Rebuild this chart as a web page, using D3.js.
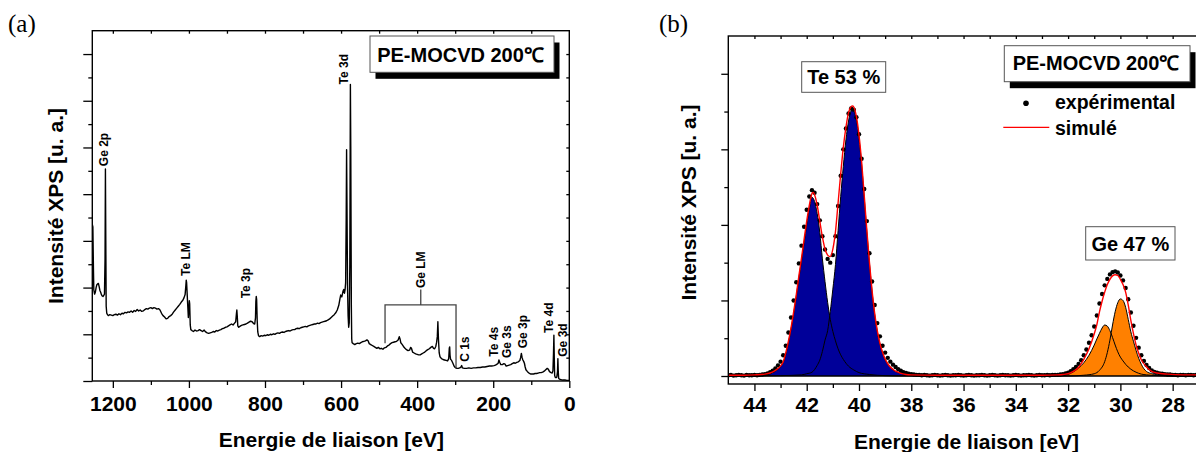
<!DOCTYPE html>
<html><head><meta charset="utf-8">
<script src="https://cdn.jsdelivr.net/npm/d3@7"></script>
<style>
body{margin:0;background:#fff;}
svg{display:block;font-family:"Liberation Sans",Arial,Helvetica,sans-serif;}
</style></head><body>
<svg id="chart" width="1196" height="452"></svg>
<script>
// ---------------- DATA ----------------
// Panel (a): XPS survey spectrum [binding energy eV, intensity a.u.]
const survey = [
[1254,3.35],[1252.5,3.3],[1251,2.4],[1250,1.95],[1248,1.86],[1246,1.9],[1244,2.0],[1242,2.06],[1240,2.08],[1238,2.09],
[1236,2.02],[1234,1.94],[1232,1.9],[1230,1.85],[1228,1.82],[1226,1.81],[1224,1.83],[1222,1.86],[1220.5,2.6],[1219.5,4.54],
[1218.5,3.0],[1217.5,1.6],[1216,1.45],[1214,1.42],[1212,1.4],[1208,1.42],[1204,1.41],[1200,1.40],[1196,1.42],[1192,1.43],
[1188,1.41],[1184,1.44],[1180,1.42],[1176,1.45],[1172,1.44],[1168,1.47],[1164,1.46],[1160,1.48],[1156,1.47],[1152,1.50],
[1148,1.47],[1144,1.51],[1140,1.49],[1136,1.53],[1132,1.50],[1128,1.52],[1124,1.49],[1120,1.50],[1116,1.53],[1112,1.55],
[1108,1.54],[1104,1.56],[1100,1.57],[1096,1.55],[1092,1.57],[1088,1.56],[1084,1.54],[1080,1.55],[1076,1.52],[1072,1.45],
[1068,1.40],[1064,1.37],[1060,1.33],[1056,1.34],[1052,1.38],[1048,1.40],[1044,1.43],[1040,1.48],[1036,1.52],[1032,1.56],
[1028,1.6],[1024,1.64],[1020,1.69],[1016,1.73],[1013,1.78],[1010,1.85],[1008,2.05],[1007,2.16],[1006,2.1],[1004.5,1.85],
[1003,1.6],[1001.5,1.36],[1000,1.55],[999,1.72],[998,1.65],[996.5,1.2],[995,1.1],[992,1.08],[988,1.06],[984,1.09],
[980,1.07],[976,1.08],[972,1.1],[968,1.08],[964,1.06],[960,1.09],[956,1.05],[952,1.03],[948,1.02],[944,1.03],
[940,1.04],[936,1.06],[932,1.05],[928,1.08],[924,1.07],[920,1.09],[916,1.1],[912,1.12],[908,1.13],[904,1.15],
[900,1.16],[896,1.18],[892,1.2],[888,1.22],[884,1.2],[880,1.24],[877,1.27],[875,1.45],[874,1.52],[873,1.4],
[871.5,1.18],[869,1.15],[866,1.17],[862,1.19],[858,1.2],[854,1.21],[850,1.22],[846,1.24],[842,1.26],[838,1.28],
[834,1.27],[830,1.23],[827,1.22],[825,1.35],[824,1.7],[823,1.81],[822,1.75],[820.5,1.3],[819,1.05],[817,0.97],
[814,0.95],[810,0.97],[806,0.96],[802,0.98],[798,0.97],[794,0.99],[790,0.98],[786,1.0],[782,0.99],[778,1.01],
[774,1.0],[770,1.02],[766,1.03],[762,1.02],[758,1.04],[754,1.05],[750,1.04],[746,1.06],[742,1.07],[738,1.08],
[734,1.07],[730,1.09],[726,1.1],[722,1.1],[718,1.12],[714,1.13],[710,1.12],[706,1.14],[702,1.15],[698,1.16],
[694,1.17],[690,1.16],[686,1.18],[682,1.19],[678,1.2],[674,1.21],[670,1.22],[666,1.22],[662,1.24],[658,1.23],
[654,1.25],[650,1.26],[646,1.27],[642,1.28],[638,1.29],[634,1.31],[630,1.33],[626,1.36],[622,1.39],[618,1.42],
[614,1.46],[610,1.52],[606,1.62],[603,1.76],[601,1.84],[598,1.8],[595,1.92],[593,1.96],[591,1.88],[589.5,1.95],
[588,2.1],[586.5,3.5],[585.5,4.95],[584.5,3.8],[583,2.0],[581.5,1.4],[580,1.15],[578.5,1.25],[577,2.5],[575.5,6.35],
[574.5,5.0],[573,1.6],[572,0.9],[571,0.82],[568,0.8],[564,0.78],[560,0.8],[556,0.81],[552,0.8],[548,0.82],
[544,0.84],[540,0.85],[536,0.86],[532,0.88],[529,0.86],[526,0.8],[522,0.78],[518,0.76],[514,0.74],[510,0.72],
[506,0.7],[502,0.72],[498,0.69],[494,0.7],[490,0.68],[486,0.71],[482,0.72],[478,0.75],[474,0.77],[470,0.8],
[466,0.82],[462,0.83],[458,0.84],[454,0.85],[450,0.88],[447,0.95],[445,0.9],[443,0.82],[440,0.79],[436,0.74],
[432,0.70],[428,0.67],[424,0.65],[420,0.66],[417,0.72],[415,0.7],[412,0.62],[408,0.6],[404,0.58],[400,0.57],
[396,0.56],[392,0.56],[388,0.58],[384,0.6],[380,0.62],[376,0.65],[372,0.67],[368,0.69],[364,0.72],[360,0.74],
[357,0.7],[354,0.69],[351,0.74],[349,0.82],[347,0.95],[345.5,1.27],[344,0.9],[342,0.6],[340,0.52],[336,0.48],
[332,0.46],[328,0.45],[324,0.44],[320,0.43],[317,0.48],[315.5,0.7],[314.5,0.73],[313.5,0.55],[312,0.46],[310,0.45],
[306,0.38],[303,0.32],[300,0.29],[296,0.27],[292,0.27],[288,0.28],[285,0.3],[283,0.33],[281,0.28],[276,0.27],
[270,0.27],[264,0.28],[258,0.27],[252,0.28],[246,0.28],[240,0.29],[234,0.29],[228,0.30],[222,0.30],[216,0.31],
[210,0.32],[204,0.32],[198,0.33],[194,0.34],[190,0.36],[187,0.38],[185,0.45],[183,0.4],[180,0.35],[176,0.35],
[172,0.37],[169,0.36],[166,0.32],[162,0.33],[158,0.34],[154,0.35],[150,0.37],[146,0.39],[142,0.38],[138,0.4],
[134,0.41],[130,0.44],[128,0.5],[126,0.59],[124,0.5],[122,0.45],[120,0.42],[118,0.38],[116,0.3],[114,0.24],
[110,0.2],[106,0.17],[102,0.15],[98,0.15],[94,0.15],[90,0.16],[86,0.16],[82,0.17],[78,0.18],[74,0.18],
[70,0.19],[66,0.21],[62,0.24],[58,0.27],[55,0.25],[52,0.2],[48,0.18],[45,0.17],[43,0.22],[41.5,0.6],
[40.5,0.98],[39.5,0.5],[38.5,0.12],[37,0.08],[35,0.07],[33,0.08],[31,0.2],[30,0.48],[29,0.2],[28,0.06],
[26,0.04],[22,0.03],[18,0.02],[14,0.02],[10,0.02],[6,0.01],[2,0.01],[0,0.01]
];
// Peak labels of panel (a): [text, energy, intensity at label foot]
const peakLabels = [
["Ge 2p",1224.7,4.60],["Te 3d",594,6.35],["Te LM",1007.4,2.25],["Te 3p",849.7,1.77],["Ge LM",390.5,1.99],
["C 1s",276,0.41],["Te 4s",199.7,0.52],["Ge 3s",164.5,0.49],["Ge 3p",123.5,0.70],["Te 4d",55.2,1.03],["Ge 3d",18.4,0.52]
];
// Ge LM bracket: [left E, right E, bar I, left foot I, right foot I, stem E, stem top I]
const geLMBracket = [484.4, 297.8, 1.63, 0.81, 0.27, 390.5, 1.96];

const xTicksA = [1200,1000,800,600,400,200,0];
const xMinorA = [1100,900,700,500,300,100];
const xTopA = [1200,1100,1000,900,800,700,600,500,400,300,200,100];
const yMajorA = [0,1,2,3,4,5,6,7];
const yMinorA = [0.5,1.5,2.5,3.5,4.5,5.5,6.5];
const yRightA = [0.5,1,1.5,2,2.5,3,3.5,4,4.5,5,5.5,6,6.5,7];

// Panel (b): Te 4d / Ge 3d high resolution
const expData = [
[45.0,0.02],[44.9,0.03],[44.8,0.01],[44.7,0.02],[44.6,0.03],[44.5,0.02],[44.4,0.01],[44.3,0.03],[44.2,0.02],[44.1,0.02],
[44.0,0.03],[43.9,0.02],[43.8,0.03],[43.7,0.04],
[43.6,0.05],[43.5,0.07],[43.4,0.10],[43.3,0.14],[43.2,0.20],[43.1,0.28],[43.0,0.38],[42.9,0.55],[42.8,0.80],[42.7,1.15],
[42.6,1.55],[42.5,2.00],[42.4,2.48],[42.3,2.98],[42.2,3.45],[42.1,3.95],[42.0,4.40],[41.9,4.75],[41.8,4.92],[41.7,4.85],
[41.6,4.55],[41.5,4.12],[41.4,3.70],[41.3,3.35],[41.2,3.10],[41.1,3.00],[41.0,3.20],[40.9,3.70],[40.8,4.50],[40.7,5.30],
[40.6,6.00],[40.5,6.55],[40.4,6.95],[40.3,7.08],[40.2,7.05],[40.1,6.85],[40.0,6.40],[39.9,5.75],[39.8,4.95],[39.7,4.10],
[39.6,3.25],[39.5,2.50],[39.4,1.88],[39.3,1.40],[39.2,1.05],[39.1,0.80],[39.0,0.62],[38.9,0.48],[38.8,0.38],[38.7,0.30],
[38.6,0.24],[38.5,0.18],[38.4,0.14],[38.3,0.10],[38.2,0.08],[38.1,0.06],[38.0,0.05],
[37.9,0.04],[37.8,0.03],[37.7,0.03],[37.6,0.02],[37.5,0.03],[37.4,0.02],[37.3,0.01],[37.2,0.02],[37.1,0.03],[37.0,0.02],
[36.9,0.01],[36.8,0.02],[36.7,0.03],[36.6,0.02],[36.5,0.01],[36.4,0.02],[36.3,0.02],[36.2,0.03],[36.1,0.02],[36.0,0.01],
[35.9,0.02],[35.8,0.03],[35.7,0.02],[35.6,0.01],[35.5,0.02],[35.4,0.02],[35.3,0.03],[35.2,0.02],[35.1,0.01],[35.0,0.02],
[34.9,0.03],[34.8,0.02],[34.7,0.01],[34.6,0.02],[34.5,0.03],[34.4,0.02],[34.3,0.02],[34.2,0.01],[34.1,0.02],[34.0,0.03],
[33.9,0.02],[33.8,0.01],[33.7,0.02],[33.6,0.02],[33.5,0.03],[33.4,0.02],[33.3,0.01],[33.2,0.02],[33.1,0.03],[33.0,0.02],
[32.9,0.02],[32.8,0.03],[32.7,0.02],[32.6,0.03],[32.5,0.03],
[32.4,0.03],[32.3,0.04],[32.2,0.05],[32.1,0.07],[32.0,0.09],[31.9,0.13],[31.8,0.18],[31.7,0.24],[31.6,0.32],[31.5,0.42],
[31.4,0.55],[31.3,0.70],[31.2,0.88],[31.1,1.08],[31.0,1.31],[30.9,1.60],[30.8,1.92],[30.7,2.17],[30.6,2.40],[30.5,2.57],
[30.4,2.69],[30.3,2.75],[30.2,2.77],[30.1,2.74],[30.0,2.66],[29.9,2.53],[29.8,2.33],[29.7,2.03],[29.6,1.68],[29.5,1.33],
[29.4,1.01],[29.3,0.75],[29.2,0.55],[29.1,0.40],[29.0,0.29],[28.9,0.21],[28.8,0.15],[28.7,0.11],[28.6,0.09],[28.5,0.07],
[28.4,0.06],[28.3,0.05],[28.2,0.04],[28.1,0.04],[28.0,0.03],
[27.9,0.03],[27.8,0.02],[27.7,0.03],[27.6,0.03],[27.5,0.02],[27.4,0.03],[27.3,0.03],[27.2,0.02],[27.1,0.03],[27.0,0.03]
];
const simulated = [
[45.0,0.02],[44.4,0.02],[44.0,0.03],[43.6,0.05],[43.4,0.08],[43.2,0.15],[43.0,0.27],[42.9,0.38],[42.8,0.62],[42.7,0.92],
[42.6,1.28],[42.5,1.70],[42.4,2.15],[42.3,2.65],[42.2,3.12],[42.1,3.62],[42.0,4.10],[41.9,4.52],[41.8,4.83],[41.75,4.86],
[41.7,4.80],[41.6,4.52],[41.5,4.10],[41.4,3.68],[41.3,3.36],[41.2,3.20],[41.1,3.16],[41.0,3.36],[40.9,3.82],[40.8,4.58],
[40.7,5.35],[40.6,6.05],[40.5,6.58],[40.4,6.97],[40.3,7.13],[40.25,7.15],[40.2,7.12],[40.1,6.87],[40.0,6.38],[39.9,5.68],
[39.8,4.78],[39.7,3.86],[39.6,3.01],[39.5,2.26],[39.4,1.66],[39.3,1.20],[39.2,0.87],[39.1,0.63],[39.0,0.45],[38.9,0.33],
[38.8,0.24],[38.7,0.18],[38.6,0.13],[38.5,0.10],[38.4,0.07],[38.2,0.04],[38.0,0.03],[37.0,0.02],[35.0,0.02],[33.0,0.02],
[32.4,0.03],[32.2,0.04],[32.0,0.06],[31.8,0.12],[31.6,0.23],[31.4,0.44],[31.2,0.72],[31.0,1.12],[30.9,1.36],[30.8,1.70],
[30.7,1.98],[30.6,2.22],[30.5,2.42],[30.4,2.56],[30.3,2.65],[30.2,2.68],[30.1,2.66],[30.0,2.56],[29.9,2.42],[29.8,2.22],
[29.7,1.88],[29.6,1.47],[29.5,1.12],[29.4,0.82],[29.3,0.60],[29.2,0.43],[29.0,0.24],[28.8,0.12],[28.6,0.08],[28.2,0.05],
[27.6,0.03],[27.0,0.03]
];
const teComp1 = [
[45.0,0],[44.4,0.01],[44.0,0.02],[43.6,0.04],[43.4,0.07],[43.2,0.13],[43.0,0.25],[42.9,0.36],[42.8,0.58],[42.7,0.88],
[42.6,1.24],[42.5,1.65],[42.4,2.10],[42.3,2.59],[42.2,3.05],[42.1,3.53],[42.0,4.01],[41.9,4.42],[41.8,4.73],[41.7,4.62],
[41.6,4.30],[41.5,3.80],[41.4,3.10],[41.3,2.50],[41.2,1.95],[41.1,1.50],[41.0,1.18],[40.9,0.93],[40.8,0.72],[40.7,0.56],
[40.6,0.44],[40.4,0.26],[40.2,0.16],[40.0,0.09],[39.6,0.04],[39.0,0.01],[38.0,0],[27.0,0]
];
const teComp2 = [
[45.0,0],[43.0,0.01],[42.2,0.03],[42.0,0.06],[41.8,0.10],[41.6,0.28],[41.5,0.42],[41.4,0.65],[41.3,0.95],[41.2,1.20],
[41.1,1.70],[41.0,2.30],[40.9,2.95],[40.8,3.85],[40.7,4.75],[40.6,5.55],[40.5,6.25],[40.4,6.75],[40.3,7.02],[40.25,7.05],
[40.2,7.02],[40.1,6.78],[40.0,6.28],[39.9,5.60],[39.8,4.72],[39.7,3.82],[39.6,2.98],[39.5,2.23],[39.4,1.63],[39.3,1.18],
[39.2,0.85],[39.1,0.61],[39.0,0.44],[38.8,0.23],[38.6,0.12],[38.4,0.07],[38.2,0.04],[38.0,0.02],[37.0,0],[27.0,0]
];
const geComp1 = [
[45.0,0],[33.0,0],[32.2,0.02],[32.0,0.05],[31.8,0.11],[31.6,0.21],[31.4,0.35],[31.2,0.55],[31.0,0.82],[30.9,0.98],
[30.8,1.13],[30.7,1.27],[30.6,1.35],[30.5,1.32],[30.4,1.20],[30.3,1.02],[30.2,0.82],[30.1,0.64],[30.0,0.50],[29.9,0.40],
[29.8,0.31],[29.6,0.18],[29.4,0.10],[29.2,0.05],[29.0,0.03],[28.6,0.01],[28.0,0],[27.0,0]
];
const geComp2 = [
[45.0,0],[32.0,0],[31.4,0.02],[31.0,0.06],[30.8,0.15],[30.6,0.38],[30.5,0.62],[30.4,0.95],[30.3,1.35],[30.2,1.70],
[30.1,1.94],[30.0,2.04],[29.9,2.00],[29.8,1.82],[29.7,1.50],[29.6,1.17],[29.5,0.92],[29.4,0.68],[29.3,0.47],[29.2,0.31],
[29.1,0.19],[29.0,0.12],[28.8,0.06],[28.6,0.03],[28.2,0.01],[27.6,0],[27.0,0]
];
const xTicksB = [44,42,40,38,36,34,32,30,28];
const xMinorB = [43,41,39,37,35,33,31,29];
const xTopB = [44,43,42,41,40,39,38,37,36,35,34,33,32,31,30,29,28];
const yMajorB = [0,2,4,6,8];
const yMinorB = [1,3,5,7];
const legendLabels = ["expérimental","simulé"];

// ---------------- DRAWING ----------------
const svg = d3.select("#chart");
const FONT = '"Liberation Sans",Arial,Helvetica,sans-serif';

function styleAxis(g){
  g.select(".domain").remove();
  g.selectAll("line").attr("stroke","#000").attr("stroke-width",1.3);
  g.selectAll("text").attr("fill","#000").attr("font-family",FONT)
   .attr("font-weight","bold").attr("font-size",21);
}

// ===== Panel (a) =====
const A = {l:92.3, r:569.3, t:30.7, b:381};
const xA = d3.scaleLinear().domain([1254,0]).range([A.l,A.r]);
const yA = d3.scaleLinear().domain([0,7.5]).range([A.b,A.t]);
const gA = svg.append("g");

gA.append("g").attr("transform",`translate(0,${A.b})`)
  .call(d3.axisBottom(xA).tickValues(xTicksA).tickSize(7).tickSizeOuter(0).tickPadding(8).tickFormat(d3.format("d")))
  .call(styleAxis);
gA.append("g").attr("transform",`translate(0,${A.b})`)
  .call(d3.axisBottom(xA).tickValues(xMinorA).tickSize(4).tickSizeOuter(0).tickFormat(""))
  .call(styleAxis);
gA.append("g").attr("transform",`translate(0,${A.t})`)
  .call(d3.axisBottom(xA).tickValues(xTopA).tickSize(3).tickSizeOuter(0).tickFormat(""))
  .call(styleAxis);
gA.append("g").attr("transform",`translate(${A.l},0)`)
  .call(d3.axisLeft(yA).tickValues(yMajorA).tickSize(9).tickSizeOuter(0).tickFormat(""))
  .call(styleAxis);
gA.append("g").attr("transform",`translate(${A.l},0)`)
  .call(d3.axisLeft(yA).tickValues(yMinorA).tickSize(4).tickSizeOuter(0).tickFormat(""))
  .call(styleAxis);
gA.append("g").attr("transform",`translate(${A.r},0)`)
  .call(d3.axisLeft(yA).tickValues(yRightA).tickSize(3).tickSizeOuter(0).tickFormat(""))
  .call(styleAxis);

gA.append("defs").append("clipPath").attr("id","clipA").append("rect")
  .attr("x",A.l).attr("y",A.t).attr("width",A.r-A.l).attr("height",A.b-A.t);

gA.append("path").datum(survey)
  .attr("clip-path","url(#clipA)")
  .attr("fill","none").attr("stroke","#000").attr("stroke-width",1.4).attr("stroke-linejoin","round")
  .attr("d",d3.line().x(d=>xA(d[0])).y(d=>yA(d[1])));

gA.append("rect").attr("x",A.l).attr("y",A.t).attr("width",A.r-A.l).attr("height",A.b-A.t)
  .attr("fill","none").attr("stroke","#000").attr("stroke-width",1.4);

// Ge LM bracket
const br = geLMBracket;
gA.append("path")
  .attr("fill","none").attr("stroke","#444").attr("stroke-width",1.3)
  .attr("d",`M${xA(br[0])},${yA(br[3])}V${yA(br[2])}H${xA(br[1])}V${yA(br[4])}M${xA(br[5])},${yA(br[2])}V${yA(br[6])}`);

// peak labels
gA.selectAll("text.peak").data(peakLabels).join("text").attr("class","peak")
  .attr("transform",d=>`translate(${xA(d[1])+4.3},${yA(d[2])}) rotate(-90)`)
  .attr("font-family",FONT).attr("font-weight","bold").attr("font-size",12).attr("fill","#000")
  .text(d=>d[0]);

// title box
function shadowBox(g,x,y,w,h,txt,tx,ty,fs){
  g.append("rect").attr("x",x+5.5).attr("y",y+6.5).attr("width",w).attr("height",h).attr("fill","#000");
  g.append("rect").attr("x",x).attr("y",y).attr("width",w).attr("height",h)
    .attr("fill","#fff").attr("stroke","#555").attr("stroke-width",1);
  g.append("text").attr("x",tx).attr("y",ty).attr("text-anchor","middle")
    .attr("font-family",FONT).attr("font-weight","bold").attr("font-size",fs).text(txt);
}
shadowBox(gA,370,36,184,36.3,"PE-MOCVD 200℃",460.5,61.7,20);

// axis titles (a)
gA.append("text").attr("x",331.4).attr("y",447).attr("text-anchor","middle")
  .attr("font-family",FONT).attr("font-weight","bold").attr("font-size",21).text("Energie de liaison [eV]");
gA.append("text").attr("transform","translate(63,206) rotate(-90)").attr("text-anchor","middle")
  .attr("font-family",FONT).attr("font-weight","bold").attr("font-size",21).text("Intensité XPS [u. a.]");
svg.append("text").attr("x",8).attr("y",31.5).attr("font-family",'"Liberation Serif","Times New Roman",serif')
  .attr("font-size",25).text("(a)");

// ===== Panel (b) =====
const B = {l:728.3, r:1198.8, t:36, b:384};
const xB = d3.scaleLinear().domain([45,27]).range([B.l,B.r]);
const yB = d3.scaleLinear().domain([-0.2117,9]).range([B.b,B.t]);
const gB = svg.append("g");

gB.append("defs").append("clipPath").attr("id","clipB").append("rect")
  .attr("x",B.l).attr("y",B.t).attr("width",B.r-B.l).attr("height",B.b-B.t);

gB.append("g").attr("transform",`translate(0,${B.b})`)
  .call(d3.axisBottom(xB).tickValues(xTicksB).tickSize(7).tickSizeOuter(0).tickPadding(6).tickFormat(d3.format("d")))
  .call(styleAxis);
gB.append("g").attr("transform",`translate(0,${B.b})`)
  .call(d3.axisBottom(xB).tickValues(xMinorB).tickSize(4).tickSizeOuter(0).tickFormat(""))
  .call(styleAxis);
gB.append("g").attr("transform",`translate(0,${B.t})`)
  .call(d3.axisBottom(xB).tickValues(xTopB).tickSize(3).tickSizeOuter(0).tickFormat(""))
  .call(styleAxis);
gB.append("g").attr("transform",`translate(${B.l},0)`)
  .call(d3.axisLeft(yB).tickValues(yMajorB).tickSize(7).tickSizeOuter(0).tickFormat(""))
  .call(styleAxis);
gB.append("g").attr("transform",`translate(${B.l},0)`)
  .call(d3.axisLeft(yB).tickValues(yMinorB).tickSize(4).tickSizeOuter(0).tickFormat(""))
  .call(styleAxis);

const plotB = gB.append("g").attr("clip-path","url(#clipB)");
const area = d3.area().curve(d3.curveMonotoneX).x(d=>xB(d[0])).y0(yB(0)).y1(d=>yB(d[1]));
const line = d3.line().curve(d3.curveMonotoneX).x(d=>xB(d[0])).y(d=>yB(d[1]));
const comps = [[teComp1,"#000099"],[teComp2,"#000099"],[geComp1,"#FF8000"],[geComp2,"#FF8000"]];
comps.forEach(c=>plotB.append("path").datum(c[0]).attr("fill",c[1]).attr("d",area));
comps.forEach(c=>plotB.append("path").datum(c[0]).attr("fill","none").attr("stroke","#000").attr("stroke-width",1).attr("d",line));
plotB.selectAll("circle.exp").data(expData).join("circle").attr("class","exp")
  .attr("cx",d=>xB(d[0])).attr("cy",d=>yB(d[1])).attr("r",2.2).attr("fill","#000");
plotB.append("path").datum(simulated).attr("fill","none").attr("stroke","#FF0000").attr("stroke-width",1.4).attr("d",line);

gB.append("rect").attr("x",B.l).attr("y",B.t).attr("width",B.r-B.l).attr("height",B.b-B.t)
  .attr("fill","none").attr("stroke","#000").attr("stroke-width",1.4);

// boxes
function plainBox(g,x,y,w,h,txt,tx,ty){
  g.append("rect").attr("x",x).attr("y",y).attr("width",w).attr("height",h)
    .attr("fill","#fff").attr("stroke","#555").attr("stroke-width",1);
  g.append("text").attr("x",tx).attr("y",ty).attr("text-anchor","middle")
    .attr("font-family",FONT).attr("font-weight","bold").attr("font-size",20).text(txt);
}
plainBox(gB,801.7,61.7,84,30.6,"Te 53 %",843.7,84);
plainBox(gB,1085.7,226.7,89.3,33.3,"Ge 47 %",1130.3,250.7);
shadowBox(gB,1004.3,45.7,185.7,36,"PE-MOCVD 200℃",1096,70,20);

// legend
gB.append("circle").attr("cx",1026).attr("cy",103.3).attr("r",2.8).attr("fill","#000");
gB.append("line").attr("x1",1003.3).attr("x2",1049.3).attr("y1",127.3).attr("y2",127.3).attr("stroke","#FF0000").attr("stroke-width",1.3);
gB.selectAll("text.leg").data(legendLabels).join("text").attr("class","leg")
  .attr("x",1055).attr("y",(d,i)=>i===0?109.3:135)
  .attr("font-family",FONT).attr("font-weight","bold").attr("font-size",19.5).text(d=>d);

// axis titles (b)
gB.append("text").attr("x",966.5).attr("y",448.5).attr("text-anchor","middle")
  .attr("font-family",FONT).attr("font-weight","bold").attr("font-size",21).text("Energie de liaison [eV]");
gB.append("text").attr("transform","translate(695.5,202.5) rotate(-90)").attr("text-anchor","middle")
  .attr("font-family",FONT).attr("font-weight","bold").attr("font-size",21).text("Intensité XPS [u. a.]");
svg.append("text").attr("x",659).attr("y",31.5).attr("font-family",'"Liberation Serif","Times New Roman",serif')
  .attr("font-size",25).text("(b)");
</script>
</body></html>
